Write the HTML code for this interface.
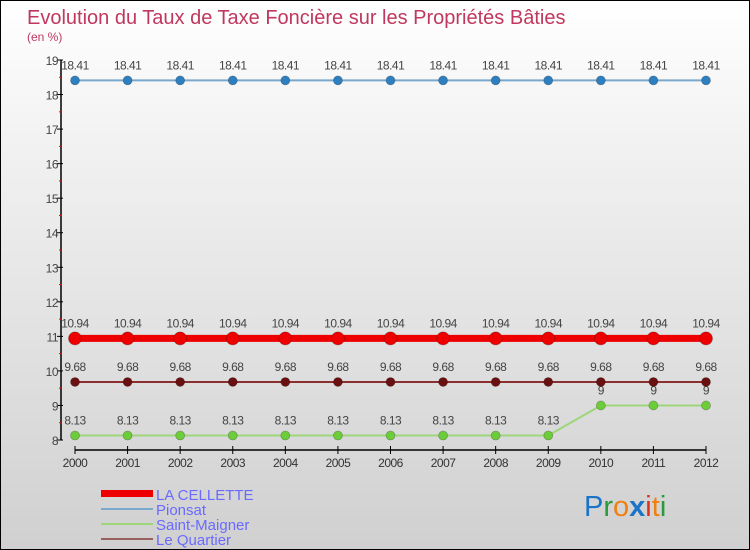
<!DOCTYPE html>
<html><head><meta charset="utf-8"><style>
body{margin:0}
#c{position:relative;width:748px;height:548px;border:1px solid #000;background:linear-gradient(#fff,#f2f2f2 25%,#d0d0d0);font-family:"Liberation Sans",sans-serif;overflow:hidden}
</style></head><body>
<div id="c">
<svg id="s" width="748" height="548">
<text x="26" y="23" font-size="20" fill="#c0385f">Evolution du Taux de Taxe Foncière sur les Propriétés Bâties</text>
<text x="26" y="40" font-size="12" fill="#c0385f">(en %)</text>
<g id="ax"></g><g id="ser"></g>
<g>
<rect x="100" y="489" width="52" height="7" fill="#e00"/>
<text x="155" y="499" font-size="15" fill="#6a6aff">LA CELLETTE</text>
<rect x="100" y="507" width="52" height="2" fill="#7aa8cc"/>
<text x="155" y="514" font-size="15" fill="#6a6aff">Pionsat</text>
<rect x="100" y="522" width="52" height="2" fill="#9ed67a"/>
<text x="155" y="529" font-size="15" fill="#6a6aff">Saint-Maigner</text>
<rect x="100" y="537" width="52" height="2" fill="#9a6060"/>
<text x="155" y="544" font-size="15" fill="#6a6aff">Le Quartier</text>
</g>
<text x="583" y="515" font-size="29"><tspan fill="#1a74c8">P</tspan><tspan fill="#2a9a3a">r</tspan><tspan fill="#f08010">o</tspan><tspan fill="#1a74c8" font-weight="bold">x</tspan><tspan fill="#e03020">i</tspan><tspan fill="#f08010">t</tspan><tspan fill="#2a9a3a">i</tspan></text>
</svg></div>
<script>
const years=[2000,2001,2002,2003,2004,2005,2006,2007,2008,2009,2010,2011,2012];
const yTicks=[8,9,10,11,12,13,14,15,16,17,18,19];
const pionsat=[18.41,18.41,18.41,18.41,18.41,18.41,18.41,18.41,18.41,18.41,18.41,18.41,18.41];
const cellette=[10.94,10.94,10.94,10.94,10.94,10.94,10.94,10.94,10.94,10.94,10.94,10.94,10.94];
const quartier=[9.68,9.68,9.68,9.68,9.68,9.68,9.68,9.68,9.68,9.68,9.68,9.68,9.68];
const maigner=[8.13,8.13,8.13,8.13,8.13,8.13,8.13,8.13,8.13,8.13,9,9,9];
const NS="http://www.w3.org/2000/svg";
const X=i=>74+i*(705-74)/(years.length-1);
const Y=v=>439-(v-8)*(380/11);
function mk(t,a,p){const e=document.createElementNS(NS,t);for(const k in a)e.setAttribute(k,a[k]);p.appendChild(e);return e;}
const ax=document.getElementById('ax');
let l=mk('line',{x1:60,y1:Y(19),x2:60,y2:Y(8),stroke:'#000','stroke-width':1.5},ax);


yTicks.forEach(v=>{
 const y=Y(v);
 const t=mk('line',{x1:56,y1:y,x2:62,y2:y,stroke:'#000'},ax);
 
 
 const tx=mk('text',{x:57,y:y+5,'font-size':12,fill:'#444','text-anchor':'end','letter-spacing':'-0.5'},ax);
 tx.textContent=v;
 
 
 if(v<19){const m=mk('line',{x1:58,y1:Y(v+0.5),x2:61,y2:Y(v+0.5),stroke:'#f00'},ax);
 
 }
});
l=mk('line',{x1:X(0),y1:449,x2:X(12),y2:449,stroke:'#000','stroke-width':1.5},ax);


years.forEach((yr,i)=>{
 const t=mk('line',{x1:X(i),y1:445,x2:X(i),y2:453,stroke:'#000'},ax);
 
 
 const tx=mk('text',{x:X(i),y:466,'font-size':12,fill:'#333','text-anchor':'middle','letter-spacing':'-0.5'},ax);
 tx.textContent=yr;
 
 
});
const ser=document.getElementById('ser');
function draw(vals,name,lc,pc,lw,r){
 const g=mk('g',{},ser);
 
 
 const p=mk('polyline',{points:vals.map((v,i)=>X(i)+','+Y(v)).join(' '),fill:'none',stroke:lc,'stroke-width':lw},g);
 
 
 vals.forEach((v,i)=>{
  const c=mk('circle',{cx:X(i),cy:Y(v),r:r,fill:pc,stroke:'rgba(0,0,0,0.25)','stroke-width':0.8},g);
  
  
  const t=mk('text',{x:X(i),y:Y(v)-11,'font-size':12,fill:'#444','text-anchor':'middle','letter-spacing':'-0.5'},g);
  t.textContent=v;
  
  
 });
}
draw(pionsat,'pionsat','#7aa8cc','#2d7fbf',2,4.5);
draw(maigner,'saint-maigner','#9ed67a','#6ccc3a',2,4.5);
draw(quartier,'le-quartier','#8a3030','#6a1010',2,4.5);
draw(cellette,'la-cellette','#e00','#e00',7,6.5);
</script>
</body></html>
